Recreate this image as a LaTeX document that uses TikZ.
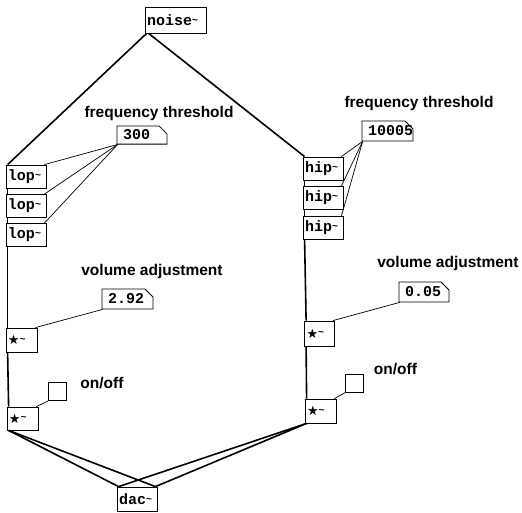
\documentclass[tikz,border=0pt]{standalone}
\usepackage{fontspec}
\setmainfont{Liberation Sans}
\newfontfamily\pdmono{Liberation Mono}
\newfontfamily\symfont{DejaVu Sans}
\usetikzlibrary{shapes.misc}
\newcommand{\objfont}{\pdmono\bfseries\fontsize{15}{16}\selectfont}
\newcommand{\lblfont}{\bfseries\fontsize{15.5}{16}\selectfont}
\newcommand{\sig}{\raisebox{0.15em}{\fontsize{10}{10}\selectfont\textasciitilde}}
\newcommand{\mulsym}{{\symfont\fontsize{13}{13}\selectfont ★}}

\begin{document}
\begin{tikzpicture}[x=1pt, y=-1pt,
    obj/.style={draw, line width=0.8pt, inner xsep=2pt, inner ysep=0pt, minimum height=23pt, text width=#1, font=\objfont},
    num/.style={draw, line width=0.8pt, chamfered rectangle, chamfered rectangle corners=north east,
      chamfered rectangle xsep=4pt, chamfered rectangle ysep=4pt, inner xsep=2pt, inner ysep=0pt,
      minimum height=20pt, text width=#1, font=\objfont},
    tgl/.style={draw, line width=0.8pt, minimum width=18pt, minimum height=18pt, inner sep=0pt},
    lbl/.style={anchor=base, font=\lblfont},
    sigl/.style={line width=1.6pt},
    ctl/.style={line width=0.7pt}
  ]
    \useasboundingbox[fill=white] (0,0) rectangle (522,512);

    \node[obj=57pt, minimum height=26pt] (noise) at (175.5,20) {noise\sig};

    \node[lbl] (frqL) at (159,117) {frequency threshold};
    \node[num=38pt, minimum height=18pt] (thrL) at (142,135) {300};
    \node[obj=36pt] (lop1) at (26,176.5) {lop\sig};
    \node[obj=36pt] (lop2) at (26,206) {lop\sig};
    \node[obj=36pt] (lop3) at (26,235) {lop\sig};

    \node[lbl] (frqR) at (419,107) {frequency threshold};
    \node[num=39pt] (thrR) at (387.5,131) {10005};
    \node[obj=36pt] (hip1) at (323,168.5) {hip\sig};
    \node[obj=36pt] (hip2) at (323,198) {hip\sig};
    \node[obj=36pt] (hip3) at (323,228) {hip\sig};

    \node[lbl] (volL) at (152,275) {volume adjustment};
    \node[num=39pt] (gainL) at (127.5,299) {2.92};
    \node[obj=27pt, minimum height=24pt] (mulL1) at (21.5,340) {\mulsym\sig};
    \node[tgl] (togL) at (57.5,391) {};
    \node[lbl] (onL) at (102,388) {on/off};
    \node[obj=27pt] (mulL2) at (22.5,418.5) {\mulsym\sig};

    \node[lbl] (volR) at (448,267) {volume adjustment};
    \node[num=38pt] (gainR) at (424,292) {0.05};
    \node[obj=26pt, minimum height=25pt] (mulR1) at (319.5,333.5) {\mulsym\sig};
    \node[tgl] (togR) at (354,383) {};
    \node[lbl] (onR) at (395.5,374) {on/off};
    \node[obj=27pt, minimum height=24pt] (mulR2) at (320.5,411) {\mulsym\sig};

    \node[obj=36pt, minimum height=24pt] (dac) at (137,499) {dac\sig};

    \draw[sigl] ([xshift=2pt]noise.south west) -- ([xshift=2pt]lop1.north west);
    \draw[sigl] ([xshift=4pt]noise.south west) -- ([xshift=2pt]hip1.north west);

    \draw[sigl] ([xshift=2pt]lop1.south west) -- ([xshift=2pt]lop2.north west);
    \draw[sigl] ([xshift=2pt]lop2.south west) -- ([xshift=2pt]lop3.north west);
    \draw[sigl] ([xshift=2pt]lop3.south west) -- ([xshift=2pt]mulL1.north west);
    \draw[sigl] ([xshift=2pt]mulL1.south west) -- ([xshift=2pt]mulL2.north west);
    \draw[ctl] ([xshift=1pt]thrL.south west) -- ([xshift=-2pt]lop1.north east);
    \draw[ctl] ([xshift=1pt]thrL.south west) -- ([xshift=-2pt]lop2.north east);
    \draw[ctl] ([xshift=1pt]thrL.south west) -- ([xshift=-2pt]lop3.north east);
    \draw[ctl] ([xshift=1pt]gainL.south west) -- ([xshift=-2pt]mulL1.north east);
    \draw[ctl] ([xshift=1pt]togL.south west) -- ([xshift=-2pt]mulL2.north east);

    \draw[sigl] ([xshift=2pt]hip1.south west) -- ([xshift=2pt]hip2.north west);
    \draw[sigl] ([xshift=2pt]hip2.south west) -- ([xshift=2pt]hip3.north west);
    \draw[sigl] ([xshift=2pt]hip3.south west) -- ([xshift=2pt]mulR1.north west);
    \draw[sigl] ([xshift=2pt]mulR1.south west) -- ([xshift=2pt]mulR2.north west);
    \draw[ctl] ([xshift=1pt]thrR.south west) -- ([xshift=-2pt]hip1.north east);
    \draw[ctl] ([xshift=1pt]thrR.south west) -- ([xshift=-2pt]hip2.north east);
    \draw[ctl] ([xshift=1pt]thrR.south west) -- ([xshift=-2pt]hip3.north east);
    \draw[ctl] ([xshift=1pt]gainR.south west) -- ([xshift=-2pt]mulR1.north east);
    \draw[ctl] ([xshift=1pt]togR.south west) -- ([xshift=-2pt]mulR2.north east);

    \draw[sigl] ([xshift=2pt]mulL2.south west) -- ([xshift=2pt]dac.north west);
    \draw[sigl] ([xshift=2pt]mulL2.south west) -- ([xshift=-2pt]dac.north east);
    \draw[sigl] ([xshift=2pt]mulR2.south west) -- ([xshift=2pt]dac.north west);
    \draw[sigl] ([xshift=2pt]mulR2.south west) -- ([xshift=-2pt]dac.north east);
  \end{tikzpicture}
\end{document}
